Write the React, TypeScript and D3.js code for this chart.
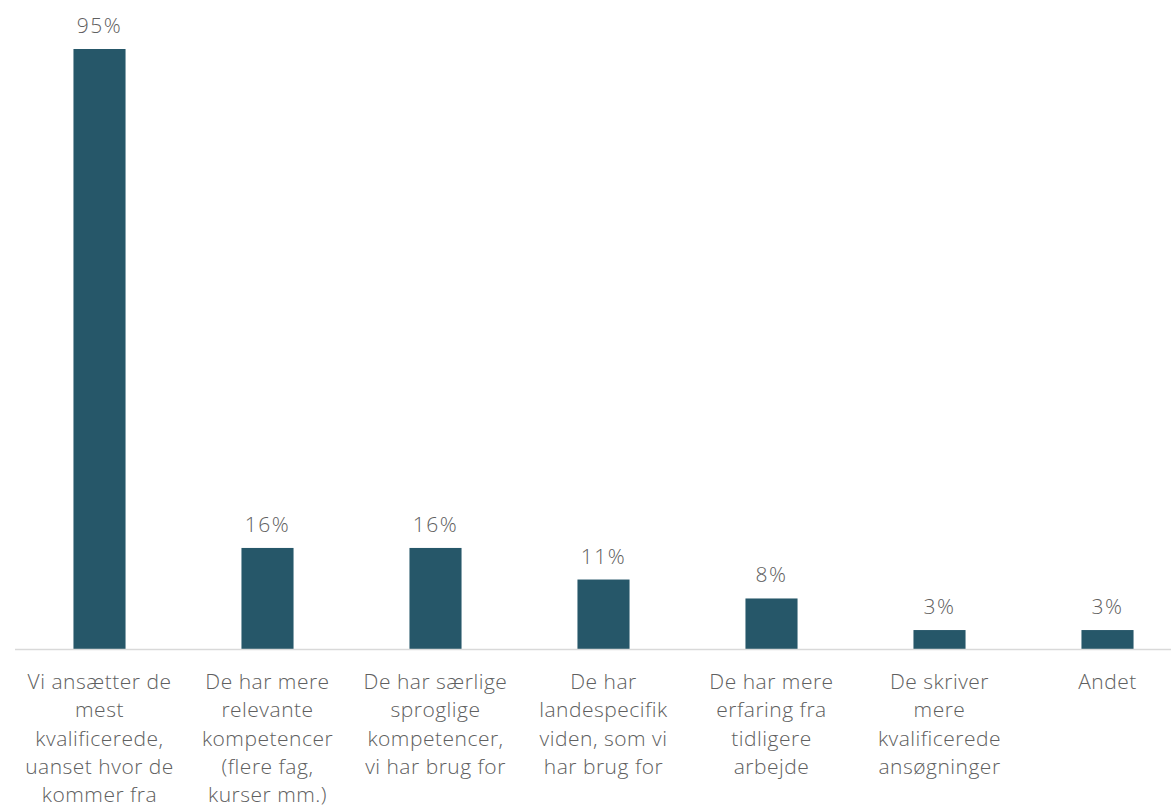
import React from "react";
import * as d3 from "d3";

const categories: string[][] = [
  ["Vi ansætter de", "mest", "kvalificerede,", "uanset hvor de", "kommer fra"],
  ["De har mere", "relevante", "kompetencer", "(flere fag,", "kurser mm.)"],
  ["De har særlige", "sproglige", "kompetencer,", "vi har brug for"],
  ["De har", "landespecifik", "viden, som vi", "har brug for"],
  ["De har mere", "erfaring fra", "tidligere", "arbejde"],
  ["De skriver", "mere", "kvalificerede", "ansøgninger"],
  ["Andet"],
];
const values: number[] = [95, 16, 16, 11, 8, 3, 3];
const valueLabels: string[] = ["95%", "16%", "16%", "11%", "8%", "3%", "3%"];

const W = 1171;
const H = 807;
const BASE = 649;
const FONT = "'Open Sans', 'DejaVu Sans', sans-serif";
const TEXT = "#606060";
const BAR = "#265769";

export default function App() {
  const idx = categories.map((_, i) => String(i));
  const x = d3
    .scaleBand<string>()
    .domain(idx)
    .range([15.5, 1191.5])
    .paddingInner(0.69)
    .paddingOuter(0.345);
  const y = d3.scaleLinear().domain([0, 95]).range([BASE, 49]);

  return (
    <svg
      width={W}
      height={H}
      style={{ position: "absolute", left: 0, top: 0, background: "#fff" }}
      fontFamily={FONT}
    >
      {values.map((v, i) => (
        <g key={i}>
          <rect
            x={x(String(i))!}
            y={y(v)}
            width={x.bandwidth()}
            height={BASE - y(v)}
            fill={BAR}
          />
          <text
            x={x(String(i))! + x.bandwidth() / 2}
            y={y(v) - 16}
            textAnchor="middle"
            fontSize={21}
            fontWeight={300}
            letterSpacing={1.5}
            fill={TEXT}
          >
            {valueLabels[i]}
          </text>
        </g>
      ))}
      <line x1={15} x2={W} y1={BASE + 0.5} y2={BASE + 0.5} stroke="#d9d9d9" strokeWidth={1.5} />
      {categories.map((lines, i) => (
        <text
          key={i}
          x={x(String(i))! + x.bandwidth() / 2}
          textAnchor="middle"
          fontSize={21}
          fontWeight={300}
          letterSpacing={0.5}
          fill={TEXT}
        >
          {lines.map((l, j) => (
            <tspan key={j} x={x(String(i))! + x.bandwidth() / 2} y={689 + j * 28.3}>
              {l}
            </tspan>
          ))}
        </text>
      ))}
    </svg>
  );
}
